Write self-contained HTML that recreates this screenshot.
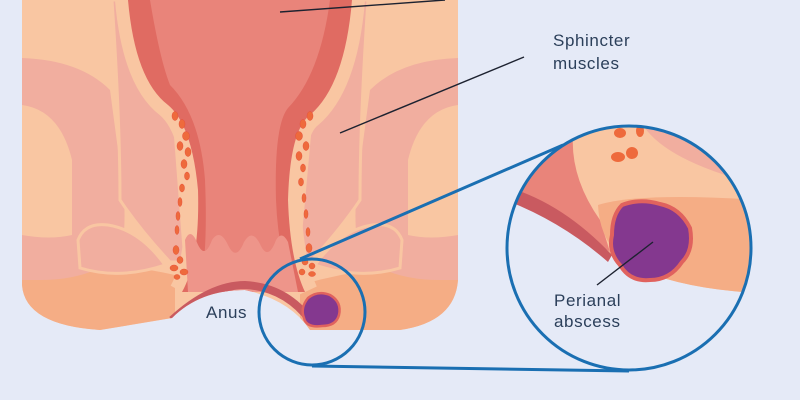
<!DOCTYPE html>
<html><head><meta charset="utf-8"><style>
html,body{margin:0;padding:0;background:#e5eaf7;}
svg{display:block}
text{font-family:"Liberation Sans",sans-serif;fill:#2b3f5a;font-size:17px;letter-spacing:0.6px}
</style></head><body>
<svg width="800" height="400" viewBox="0 0 800 400" xmlns="http://www.w3.org/2000/svg">
<defs>
<clipPath id="body"><path d="M22 0 H458 V280 Q455 322 400 330 L310 330 Q290 300 245 290 Q200 290 172 318 L100 330 Q25 325 22 285 Z"/></clipPath>
<clipPath id="big"><circle cx="629" cy="248" r="122"/></clipPath>
</defs>
<rect width="800" height="400" fill="#e5eaf7"/>
<g clip-path="url(#body)">
<rect width="800" height="400" fill="#f9c6a2"/>
<path d="M0 265 Q100 258 175 275 L175 400 L0 400Z" fill="#f5ad85"/>
<path d="M300 285 Q380 262 470 265 L470 400 L300 400Z" fill="#f5ad85"/>
<!-- left pink -->
<path d="M22 58 Q80 60 110 90 L118 150 Q130 220 120 255 Q90 280 40 280 L22 280Z" fill="#f1ae9f"/>
<path d="M22 105 Q60 110 72 160 L72 235 Q50 240 22 235Z" fill="#f9c6a2"/>
<path d="M112 0 Q120 120 120 200 Q140 230 170 262 L185 262 L175 130 Q140 90 140 0Z" fill="#f1ae9f" stroke="#f9c6a2" stroke-width="3"/>
<path d="M78 240 Q85 222 108 225 Q140 230 165 265 Q120 280 80 268Z" fill="#f1ae9f" stroke="#f9c6a2" stroke-width="3"/>
<!-- right pink -->
<path d="M458 58 Q400 60 370 90 L362 150 Q350 220 360 255 Q390 280 440 280 L458 280Z" fill="#f1ae9f"/>
<path d="M458 105 Q420 110 408 160 L408 235 Q430 240 458 235Z" fill="#f9c6a2"/>
<path d="M368 0 Q360 120 360 200 Q340 230 310 262 L298 262 L310 130 Q340 90 340 0Z" fill="#f1ae9f" stroke="#f9c6a2" stroke-width="3"/>
<path d="M402 240 Q395 222 372 225 Q340 230 315 265 Q360 280 400 268Z" fill="#f1ae9f" stroke="#f9c6a2" stroke-width="3"/>
<!-- cream channels -->
<path d="M128 0 Q135 80 168 105 Q192 125 198 190 Q200 260 182 292" fill="none" stroke="#f9c6a2" stroke-width="26"/>
<path d="M352 0 Q345 85 310 115 Q290 130 288 200 Q290 260 305 292" fill="none" stroke="#f9c6a2" stroke-width="26"/>
<!-- rectum dark -->
<path d="M128 0 Q135 80 168 105 Q192 125 198 190 Q200 260 182 292 L305 292 Q290 260 288 200 Q290 130 310 115 Q345 85 352 0Z" fill="#e06b62"/>
<path d="M150 0 Q160 60 170 85 Q200 115 205 180 Q208 250 200 290 L292 290 Q278 250 276 200 Q274 125 288 108 Q320 75 330 0Z" fill="#e9847a"/>
<path d="M185 240 Q190 228 196 240 Q204 262 212 240 Q220 228 228 245 Q236 262 244 242 Q252 228 260 244 Q268 262 276 240 Q282 230 288 242 L298 292 L188 292Z" fill="#ee958a"/>
<path d="M172 320 Q210 285 245 285 Q285 287 310 320" fill="none" stroke="#c95a60" stroke-width="8"/>
<!-- glands -->
<g fill="#ee6a3c" stroke="#e8503a" stroke-width="0.5">
<ellipse cx="175" cy="116" rx="3" ry="4.5"/><ellipse cx="182" cy="124" rx="3" ry="4.5"/><ellipse cx="186" cy="136" rx="3.5" ry="4.5"/><ellipse cx="180" cy="146" rx="3" ry="4.5"/><ellipse cx="188" cy="152" rx="3" ry="4.5"/><ellipse cx="184" cy="164" rx="3" ry="4.5"/><ellipse cx="187" cy="176" rx="2.5" ry="4"/><ellipse cx="182" cy="188" rx="2.5" ry="4"/><ellipse cx="180" cy="202" rx="2" ry="4.5"/><ellipse cx="178" cy="216" rx="2" ry="4.5"/><ellipse cx="177" cy="230" rx="2" ry="4.5"/><ellipse cx="176" cy="250" rx="3" ry="4.5"/><ellipse cx="180" cy="260" rx="3" ry="3.5"/><ellipse cx="174" cy="268" rx="4" ry="3"/><ellipse cx="184" cy="272" rx="4" ry="3"/><ellipse cx="177" cy="277" rx="3" ry="2.5"/>
<ellipse cx="310" cy="116" rx="3" ry="4.5"/><ellipse cx="303" cy="124" rx="3" ry="4.5"/><ellipse cx="299" cy="136" rx="3.5" ry="4.5"/><ellipse cx="306" cy="146" rx="3" ry="4.5"/><ellipse cx="299" cy="156" rx="3" ry="4.5"/><ellipse cx="303" cy="168" rx="2.5" ry="4"/><ellipse cx="301" cy="182" rx="2.5" ry="4"/><ellipse cx="304" cy="198" rx="2" ry="4.5"/><ellipse cx="306" cy="214" rx="2" ry="4.5"/><ellipse cx="308" cy="232" rx="2" ry="4.5"/><ellipse cx="309" cy="248" rx="3" ry="4.5"/><ellipse cx="305" cy="262" rx="3" ry="3"/><ellipse cx="312" cy="266" rx="3" ry="3"/><ellipse cx="302" cy="272" rx="3" ry="3"/><ellipse cx="312" cy="274" rx="3.5" ry="2.5"/>
</g>
<path d="M308 298 Q318 290 330 295 Q342 302 339 315 Q336 326 322 326 Q306 328 304 318 Q300 308 308 298Z" fill="#84388f" stroke="#e0625e" stroke-width="2.5"/>
</g>
<g clip-path="url(#big)">
<rect x="500" y="120" width="260" height="260" fill="#e5eaf7"/>
<path d="M500 120 L760 120 L760 293 Q690 290 640 270 Q580 240 520 200 L500 195Z" fill="#f9c6a2"/>
<path d="M500 120 L575 120 Q565 170 600 220 L610 252 Q560 215 500 190Z" fill="#e9847a"/>
<path d="M500 185 Q560 200 612 255 L608 262 Q560 220 500 198Z" fill="#c95a60"/>
<path d="M640 120 Q660 160 760 185 L760 120Z" fill="#f1ae9f"/>
<path d="M598 205 Q640 192 760 200 L760 293 Q690 290 640 270 Q600 250 598 205Z" fill="#f5ad85"/>
<g fill="#ee6a3c"><ellipse cx="618" cy="157" rx="7" ry="5"/><ellipse cx="632" cy="153" rx="6" ry="6"/><ellipse cx="620" cy="133" rx="6" ry="5"/><ellipse cx="640" cy="131" rx="4" ry="6"/></g>
<path d="M622 205 Q640 198 660 204 Q680 208 690 228 Q694 250 682 262 Q670 280 650 280 Q630 282 620 265 Q608 252 612 235 Q612 215 622 205Z" fill="#84388f" stroke="#e0625e" stroke-width="4"/>
</g>
<g fill="none" stroke="#1a6fb2" stroke-width="3">
<circle cx="312" cy="312" r="53"/>
<circle cx="629" cy="248" r="122"/>
<path d="M300 259 L563 145"/>
<path d="M312 366 L629 371"/>
</g>
<g stroke="#1d2230" stroke-width="1.4">
<line x1="280" y1="12" x2="445" y2="0"/>
<line x1="340" y1="133" x2="524" y2="57"/>
<line x1="597" y1="285" x2="653" y2="242"/>
</g>
<text x="553" y="46">Sphincter</text>
<text x="553" y="69">muscles</text>
<text x="206" y="318">Anus</text>
<text x="554" y="306">Perianal</text>
<text x="554" y="327">abscess</text>
</svg>
</body></html>
